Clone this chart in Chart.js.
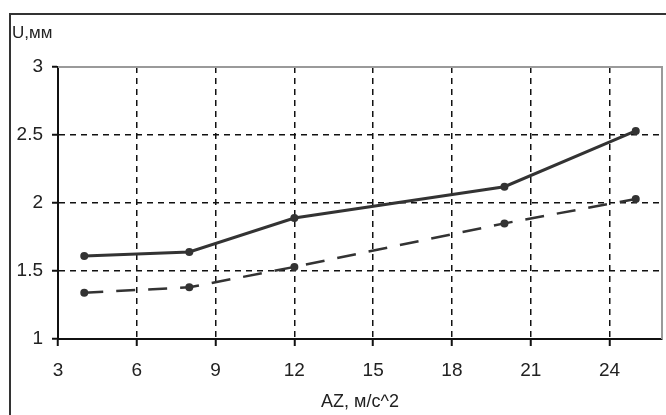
<!DOCTYPE html>
<html>
<head>
<meta charset="utf-8">
<script src="https://cdn.jsdelivr.net/npm/chart.js@4.4.0/dist/chart.umd.min.js"></script>
<style>
    html, body { margin: 0; padding: 0; background: #fff; }
    #wrap { width: 666px; height: 415px; position: relative; }
</style>
</head>
<body>
<div id="wrap"><canvas id="chart"></canvas></div>
<script>
// values
const xValues = [4, 8, 12, 20, 25];
const solidValues = [1.61, 1.64, 1.89, 2.12, 2.53];
const dashedValues = [1.34, 1.38, 1.53, 1.85, 2.03];
const xTicks = [3, 6, 9, 12, 15, 18, 21, 24];
const yTicks = [1, 1.5, 2, 2.5, 3];
const yTitle = 'U,мм';
const xTitle = 'AZ, м/с^2';

const fontFamily = "'Liberation Sans', Arial, sans-serif";
const textColor = '#222';

function toPoints(ys) {
    return xValues.map((x, i) => ({ x: x, y: ys[i] }));
}

// frame around the whole picture, the grey top/right edges and the "U,мм" label
const framePlugin = {
    id: 'frame',
    beforeDatasetsDraw(chart) {
        const ctx = chart.ctx;
        const a = chart.chartArea;
        ctx.save();
        ctx.strokeStyle = '#9a9a9a';
        ctx.lineWidth = 2;
        ctx.beginPath();
        ctx.moveTo(a.left, a.top);
        ctx.lineTo(a.right, a.top);
        ctx.lineTo(a.right, a.bottom);
        ctx.stroke();
        ctx.restore();
    },
    afterDraw(chart) {
        const ctx = chart.ctx;
        ctx.save();
        ctx.strokeStyle = '#333';
        ctx.lineWidth = 2;
        ctx.beginPath();
        ctx.moveTo(10, 415);
        ctx.lineTo(10, 14);
        ctx.lineTo(666, 14);
        ctx.stroke();

        ctx.fillStyle = textColor;
        ctx.font = '17px ' + fontFamily;
        ctx.textBaseline = 'alphabetic';
        ctx.textAlign = 'left';
        ctx.fillText(yTitle, 12, 38);
        ctx.restore();
    }
};

const ctx = document.getElementById('chart').getContext('2d');
new Chart(ctx, {
    type: 'scatter',
    data: {
        datasets: [{
            data: toPoints(solidValues),
            showLine: true,
            borderColor: '#333',
            borderWidth: 3,
            pointRadius: 4,
            pointBackgroundColor: '#333',
            pointBorderWidth: 0
        }, {
            data: toPoints(dashedValues),
            showLine: true,
            borderColor: '#333',
            borderWidth: 2.5,
            borderDash: [19, 13],
            pointRadius: 4,
            pointBackgroundColor: '#333',
            pointBorderWidth: 0
        }]
    },
    options: {
        responsive: true,
        maintainAspectRatio: false,
        animation: false,
        events: [],
        layout: { padding: { top: 67, right: 4, left: 0, bottom: 0 } },
        plugins: {
            legend: { display: false },
            tooltip: { enabled: false }
        },
        scales: {
            x: {
                type: 'linear',
                min: 3,
                max: 26,
                afterBuildTicks: scale => { scale.ticks = xTicks.map(v => ({ value: v })); },
                afterFit: scale => { scale.height = 76; },
                grid: {
                    color: '#111',
                    lineWidth: 1.5,
                    tickLength: 7,
                    tickColor: '#111',
                    tickWidth: 2
                },
                border: { color: '#111', width: 2, dash: [6, 5] },
                ticks: {
                    color: textColor,
                    padding: 13,
                    maxRotation: 0,
                    callback: v => String(v),
                    font: { family: fontFamily, size: 19 }
                },
                title: {
                    display: true,
                    text: xTitle,
                    color: textColor,
                    padding: { top: 0, bottom: 2 },
                    font: { family: fontFamily, size: 18 }
                }
            },
            y: {
                type: 'linear',
                min: 1,
                max: 3,
                afterBuildTicks: scale => { scale.ticks = yTicks.map(v => ({ value: v })); },
                afterFit: scale => { scale.width = 58; },
                grid: {
                    color: ctx => (ctx.tick && ctx.tick.value === 3) ? 'rgba(0,0,0,0)' : '#111',
                    lineWidth: 1.5,
                    tickLength: 6,
                    tickColor: '#111',
                    tickWidth: 2
                },
                border: { color: '#111', width: 2, dash: [6, 5] },
                ticks: {
                    color: textColor,
                    padding: 9,
                    callback: v => String(v),
                    font: { family: fontFamily, size: 19 }
                }
            }
        }
    },
    plugins: [framePlugin]
});
</script>
</body>
</html>
